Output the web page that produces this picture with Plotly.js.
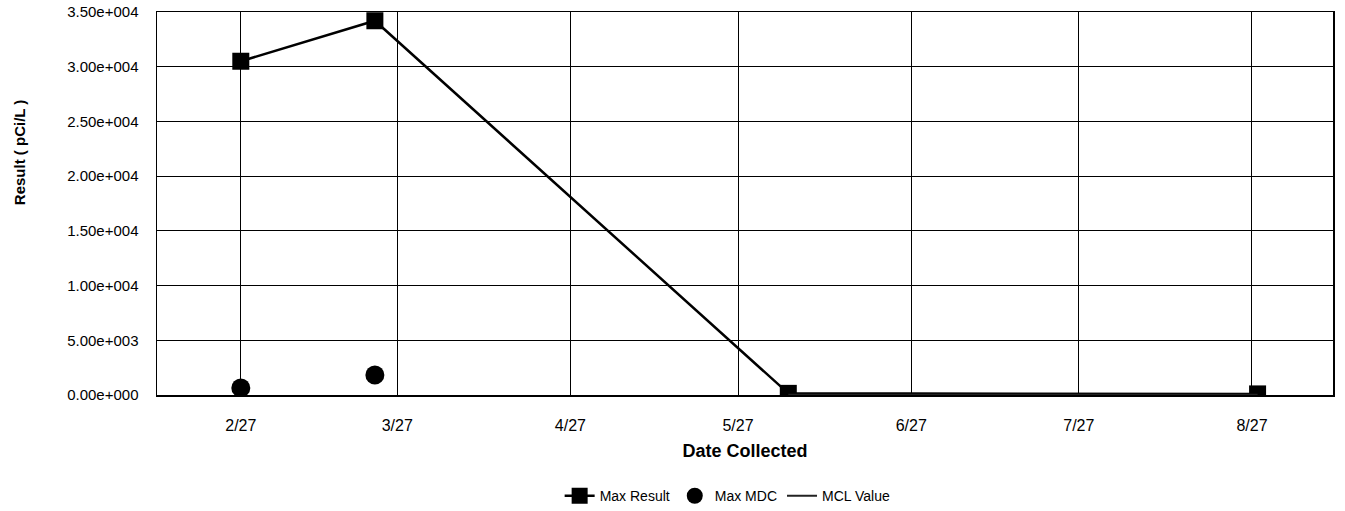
<!DOCTYPE html>
<html>
<head>
<meta charset="utf-8">
<script src="https://cdn.plot.ly/plotly-3.0.1.min.js"></script>
<style>html,body{margin:0;padding:0;background:#fff;}#chart{width:1345px;height:511px;}</style>
</head>
<body>
<div id="chart"></div>
<script>
// Data
const resultDates = ["2009-02-27", "2009-03-23", "2009-06-05", "2009-08-28"];
const maxResult = [30500, 34200, 150, 100];
const mdcDates = ["2009-02-27", "2009-03-23"];
const maxMDC = [650, 1830];
const mclDates = ["2009-06-05", "2009-08-28"];
const mclValue = [20, 20];

const xTickVals = ["2009-02-27", "2009-03-27", "2009-04-27", "2009-05-27", "2009-06-27", "2009-07-27", "2009-08-27"];
const xTickText = ["2/27", "3/27", "4/27", "5/27", "6/27", "7/27", "8/27"];
const yTickVals = [0, 5000, 10000, 15000, 20000, 25000, 30000, 35000];
const yTickText = ["0.00e+000", "5.00e+003", "1.00e+004", "1.50e+004", "2.00e+004", "2.50e+004", "3.00e+004", "3.50e+004"];
const yTitle = "Result ( pCi/L )";

const font = "Liberation Sans, Arial, sans-serif";

const traces = [
  {
    x: resultDates, y: maxResult, name: "Max Result", type: "scatter", mode: "lines+markers",
    line: {color: "#000", width: 2.5}, marker: {symbol: "square", size: 17, color: "#000"}
  },
  {
    x: mdcDates, y: maxMDC, name: "Max MDC", type: "scatter", mode: "markers",
    marker: {symbol: "circle", size: 19, color: "#000"}
  },
  {
    x: mclDates, y: mclValue, name: "MCL Value", type: "scatter", mode: "lines",
    line: {color: "#222", width: 2}
  }
];

const layout = {
  width: 1345, height: 511,
  margin: {l: 157, r: 12, t: 12, b: 116, autoexpand: false},
  paper_bgcolor: "#fff", plot_bgcolor: "#fff",
  font: {family: font, color: "#000", size: 14},
  showlegend: true,
  legend: {orientation: "h", xref: "container", yref: "container", x: 0.541, xanchor: "center", y: 0.029, yanchor: "middle",
           font: {family: font, size: 14, color: "#000"}, itemwidth: 30, tracegroupgap: 0},
  xaxis: {
    type: "date", range: ["2009-02-12", "2009-09-10 12:00"], automargin: false,
    tickmode: "array", tickvals: xTickVals, ticktext: xTickText,
    showgrid: true, gridcolor: "#000", gridwidth: 1,
    showline: true, linecolor: "#000", linewidth: 1.5, mirror: true,
    ticks: "", ticklabelstandoff: 15, zeroline: false,
    tickfont: {family: font, size: 16, color: "#000"},
    title: {text: "<b>Date Collected</b>", font: {family: font, size: 18, color: "#000"}, standoff: 11}
  },
  yaxis: {
    range: [0, 35000], automargin: false,
    tickmode: "array", tickvals: yTickVals, ticktext: yTickText,
    showgrid: true, gridcolor: "#000", gridwidth: 1,
    showline: true, linecolor: "#000", linewidth: 1.5, mirror: true,
    ticks: "", ticklabelstandoff: 14, zeroline: false,
    tickfont: {family: font, size: 15, color: "#000"}
  },
  annotations: [{
    text: "<b>" + yTitle + "</b>", textangle: -90, showarrow: false,
    xref: "paper", yref: "paper", x: -0.117, y: 0.635, xanchor: "center", yanchor: "middle",
    font: {family: font, size: 15, color: "#000"}
  }]
};

Plotly.newPlot("chart", traces, layout, {displayModeBar: false, staticPlot: true});
</script>
</body>
</html>
